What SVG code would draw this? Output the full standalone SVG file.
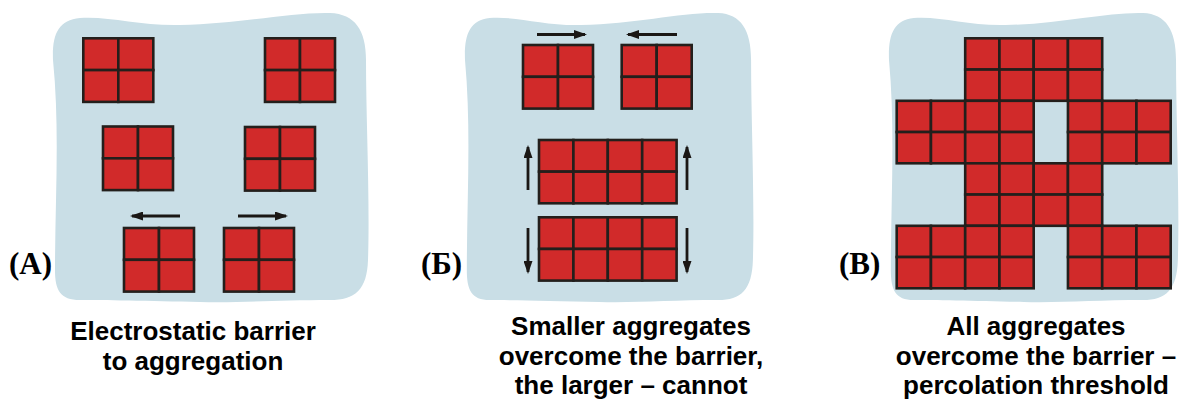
<svg xmlns="http://www.w3.org/2000/svg" xmlns:xlink="http://www.w3.org/1999/xlink" width="1184" height="403" viewBox="0 0 1184 403">
<style>
.bg{fill:#c9dee6}
.c{fill:#d12a2a;stroke:#231f1c;stroke-width:2.6}
.ar{stroke:#1a1715;stroke-width:2.8;fill:none;marker-end:url(#ah)}
.lab{font-family:"Liberation Serif","Times New Roman",serif;font-weight:bold;font-size:31px;fill:#000}
.cap{font-family:"Liberation Sans",Arial,sans-serif;font-weight:bold;font-size:26px;fill:#000;text-anchor:middle}
</style>
<defs>
<marker id="ah" markerUnits="userSpaceOnUse" markerWidth="13" markerHeight="9" refX="11" refY="4.5" orient="auto">
<path d="M0,0 L13,4.5 L0,9 Z" fill="#1a1715"/>
</marker>
<path id="blob" d="M0 60 C-1 35 5 20 27 18 C57 16 87 26 127 25 C187 24 237 12 277 13 C302 14 313 30 313 60 C313 120 317 200 315 260 C314 290 302 300 277 300 C227 300 187 303 147 302 C97 301 47 300 27 300 C7 300 2 290 2 270 C2 200 7 130 0 60 Z"/>
<g id="q">
<rect class="c" x="0" y="0" width="35" height="31.8"/>
<rect class="c" x="35" y="0" width="35" height="31.8"/>
<rect class="c" x="0" y="31.8" width="35" height="31.8"/>
<rect class="c" x="35" y="31.8" width="35" height="31.8"/>
</g>
<g id="r8">
<rect class="c" x="0" y="0" width="34.4" height="31.65"/>
<rect class="c" x="34.4" y="0" width="34.4" height="31.65"/>
<rect class="c" x="68.8" y="0" width="34.4" height="31.65"/>
<rect class="c" x="103.2" y="0" width="34.4" height="31.65"/>
<rect class="c" x="0" y="31.65" width="34.4" height="31.65"/>
<rect class="c" x="34.4" y="31.65" width="34.4" height="31.65"/>
<rect class="c" x="68.8" y="31.65" width="34.4" height="31.65"/>
<rect class="c" x="103.2" y="31.65" width="34.4" height="31.65"/>
</g>
</defs>

<g id="panelA">
<use xlink:href="#blob" href="#blob" class="bg" transform="translate(53,0)"/>
<g id="A-sq1"><use href="#q" xlink:href="#q" x="83.3" y="38.3"/></g>
<g id="A-sq2"><use href="#q" xlink:href="#q" x="265" y="38.3"/></g>
<g id="A-sq3"><use href="#q" xlink:href="#q" x="103" y="126.5"/></g>
<g id="A-sq4"><use href="#q" xlink:href="#q" x="245" y="127"/></g>
<g id="A-sq5"><use href="#q" xlink:href="#q" x="124" y="228"/></g>
<g id="A-sq6"><use href="#q" xlink:href="#q" x="224" y="228"/></g>
<text class="lab" x="9" y="274">(A)</text>
<text class="cap" x="193" y="340">Electrostatic barrier</text>
<text class="cap" x="193" y="370">to aggregation</text>
</g>

<g id="panelB">
<use href="#blob" xlink:href="#blob" class="bg" transform="translate(465,0) scale(0.914,1)"/>
<g id="B-sq1"><use href="#q" xlink:href="#q" x="523" y="45"/></g>
<g id="B-sq2"><use href="#q" xlink:href="#q" x="621.7" y="45"/></g>
<g id="B-rect1"><use href="#r8" xlink:href="#r8" x="539" y="140"/></g>
<g id="B-rect2"><use href="#r8" xlink:href="#r8" x="539" y="217.3"/></g>
<text class="lab" x="421" y="274">(Б)</text>
<text class="cap" x="631" y="335">Smaller aggregates</text>
<text class="cap" x="631" y="364.5">overcome the barrier,</text>
<text class="cap" x="631" y="394">the larger – cannot</text>
</g>

<g id="panelC">
<use href="#blob" xlink:href="#blob" class="bg" transform="translate(889,0) scale(0.917,1)"/>
<g id="C-cluster">
<rect class="c" x="965.2" y="38.3" width="34.25" height="31.25"/>
<rect class="c" x="999.45" y="38.3" width="34.25" height="31.25"/>
<rect class="c" x="1033.7" y="38.3" width="34.25" height="31.25"/>
<rect class="c" x="1067.95" y="38.3" width="34.25" height="31.25"/>
<rect class="c" x="965.2" y="69.55" width="34.25" height="31.25"/>
<rect class="c" x="999.45" y="69.55" width="34.25" height="31.25"/>
<rect class="c" x="1033.7" y="69.55" width="34.25" height="31.25"/>
<rect class="c" x="1067.95" y="69.55" width="34.25" height="31.25"/>

<rect class="c" x="896.7" y="100.8" width="34.25" height="31.25"/>
<rect class="c" x="930.95" y="100.8" width="34.25" height="31.25"/>
<rect class="c" x="965.2" y="100.8" width="34.25" height="31.25"/>
<rect class="c" x="999.45" y="100.8" width="34.25" height="31.25"/>
<rect class="c" x="1067.95" y="100.8" width="34.25" height="31.25"/>
<rect class="c" x="1102.2" y="100.8" width="34.25" height="31.25"/>
<rect class="c" x="1136.45" y="100.8" width="34.25" height="31.25"/>
<rect class="c" x="896.7" y="132.05" width="34.25" height="31.25"/>
<rect class="c" x="930.95" y="132.05" width="34.25" height="31.25"/>
<rect class="c" x="965.2" y="132.05" width="34.25" height="31.25"/>
<rect class="c" x="999.45" y="132.05" width="34.25" height="31.25"/>
<rect class="c" x="1067.95" y="132.05" width="34.25" height="31.25"/>
<rect class="c" x="1102.2" y="132.05" width="34.25" height="31.25"/>
<rect class="c" x="1136.45" y="132.05" width="34.25" height="31.25"/>

<rect class="c" x="965.2" y="163.3" width="34.25" height="31.25"/>
<rect class="c" x="999.45" y="163.3" width="34.25" height="31.25"/>
<rect class="c" x="1033.7" y="163.3" width="34.25" height="31.25"/>
<rect class="c" x="1067.95" y="163.3" width="34.25" height="31.25"/>
<rect class="c" x="965.2" y="194.55" width="34.25" height="31.25"/>
<rect class="c" x="999.45" y="194.55" width="34.25" height="31.25"/>
<rect class="c" x="1033.7" y="194.55" width="34.25" height="31.25"/>
<rect class="c" x="1067.95" y="194.55" width="34.25" height="31.25"/>

<rect class="c" x="896.7" y="225.8" width="34.25" height="31.25"/>
<rect class="c" x="930.95" y="225.8" width="34.25" height="31.25"/>
<rect class="c" x="965.2" y="225.8" width="34.25" height="31.25"/>
<rect class="c" x="999.45" y="225.8" width="34.25" height="31.25"/>
<rect class="c" x="1067.95" y="225.8" width="34.25" height="31.25"/>
<rect class="c" x="1102.2" y="225.8" width="34.25" height="31.25"/>
<rect class="c" x="1136.45" y="225.8" width="34.25" height="31.25"/>
<rect class="c" x="896.7" y="257.05" width="34.25" height="31.25"/>
<rect class="c" x="930.95" y="257.05" width="34.25" height="31.25"/>
<rect class="c" x="965.2" y="257.05" width="34.25" height="31.25"/>
<rect class="c" x="999.45" y="257.05" width="34.25" height="31.25"/>
<rect class="c" x="1067.95" y="257.05" width="34.25" height="31.25"/>
<rect class="c" x="1102.2" y="257.05" width="34.25" height="31.25"/>
<rect class="c" x="1136.45" y="257.05" width="34.25" height="31.25"/>
</g>
<text class="lab" x="839" y="274">(В)</text>
<text class="cap" x="1036" y="335">All aggregates</text>
<text class="cap" x="1036" y="364.5">overcome the barrier –</text>
<text class="cap" x="1036" y="394">percolation threshold</text>
</g>

<g id="connectors">
<line class="ar" x1="180" y1="216" x2="132" y2="216"/>
<line class="ar" x1="238" y1="216" x2="286" y2="216"/>
<line class="ar" x1="537" y1="34.5" x2="585" y2="34.5"/>
<line class="ar" x1="677" y1="34.5" x2="628" y2="34.5"/>
<line class="ar" x1="528" y1="190" x2="528" y2="147"/>
<line class="ar" x1="687" y1="190" x2="687" y2="147"/>
<line class="ar" x1="528" y1="228" x2="528" y2="272"/>
<line class="ar" x1="687" y1="228" x2="687" y2="272"/>
</g>
</svg>
